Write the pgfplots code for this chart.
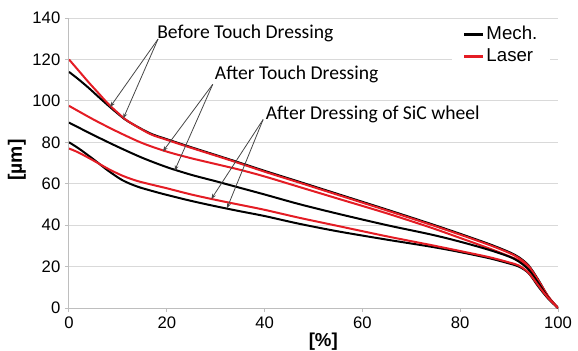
\documentclass[border=0pt]{standalone}
\usepackage{fontspec}
\setmainfont{Liberation Sans}
\newfontfamily\calibri{Carlito}
\usepackage{pgfplots}
\pgfplotsset{compat=1.18}
\usetikzlibrary{arrows.meta}
\definecolor{myred}{RGB}{228,28,36}
\definecolor{gridgray}{RGB}{217,217,217}
\definecolor{axgray}{RGB}{190,190,190}
\definecolor{arrgray}{RGB}{70,70,70}

\begin{document}
\begin{tikzpicture}
\useasboundingbox (-51.75pt,-31.5pt) rectangle (381.75pt,231pt);
\begin{axis}[
  at={(0pt,0pt)}, anchor=south west,
  scale only axis, width=366.75pt, height=217.5pt,
  xmin=0, xmax=100, ymin=0, ymax=140,
  axis lines*=left,
  axis line style={axgray, line width=0.75pt},
  xtick={0,20,...,100}, ytick={0,20,...,140},
  ymajorgrids, grid style={gridgray, line width=0.75pt},
  tick style={axgray, line width=0.75pt}, tick align=outside, major tick length=3pt,
  tick label style={font=\fontsize{12.5}{14}\selectfont, text=black},
  /pgf/number format/assume math mode=true,
  xlabel={\textbf{[\%]}}, xlabel style={font=\fontsize{14}{16}\selectfont, at={(rel axis cs:0.52,0)}, anchor=north, yshift=-15pt},
  ylabel={\textbf{[µm]}}, ylabel style={font=\fontsize{14.5}{16}\selectfont, at={(rel axis cs:0,0.51)}, anchor=center, rotate=0, yshift=0pt, xshift=0pt},
  ylabel shift=0pt,
  legend style={at={(rel axis cs:0.783,0.997)}, anchor=north west, draw=none, fill=white,
    font=\fontsize{14}{16}\selectfont, inner xsep=8pt, inner ysep=3pt, row sep=0pt,
    nodes={text height=10.5pt, text depth=3pt, inner sep=1.5pt}},
  legend cell align=left,
  legend image code/.code={\draw[#1, line width=2.25pt] (0pt,0pt) -- (14pt,0pt);},
  ylabel style={yshift=39pt},
]
% Before touch dressing - Mech
\addplot[black, line width=1.5pt, smooth, forget plot] coordinates {
(0,114) (2,110.3) (4,106.3) (6,102) (8,97.8) (10,93.8) (12,90.2) (16.5,84.4) (20,81.5) (25,77.6) (33,71.6) (40,66.2) (47,61) (55,55) (65,47.5) (74,40.6) (80,35.8) (86,30.8) (90,27) (92,24.5) (94,20.5) (96,13.5) (98,5.5) (100,0)};
% Before touch dressing - Laser
\addplot[myred, line width=1.5pt, smooth, forget plot] coordinates {
(0,120) (2,114.5) (4,109) (6,103.8) (8,98.6) (10,94.2) (12,90.3) (16.5,84.1) (20,81.2) (25,77.3) (33,71.3) (40,65.8) (47,60.6) (55,54.6) (65,47.1) (74,40.2) (80,35.4) (86,30.4) (90,26.6) (92,24.1) (94,20.2) (96,13.2) (98,5.5) (100,0)};
% After touch dressing - Laser
\addplot[myred, line width=1.5pt, smooth, forget plot] coordinates {
(0,97.6) (5,91) (10,85) (15,79.6) (20,75.5) (25,72.3) (30,69.5) (35,66.7) (40,63.5) (47,58.5) (55,52.8) (65,45.7) (74,38.8) (80,33.8) (86,28.7) (90,25) (92,23) (94,19.5) (96,13) (98,5.5) (100,0)};
% After touch dressing - Mech
\addplot[black, line width=1.5pt, smooth, forget plot] coordinates {
(0,89.5) (5,83.5) (10,77.8) (15,72.5) (20,68) (25,64.3) (30,61.2) (35,58) (40,54.8) (47,50.2) (55,45.5) (65,40) (74,35.5) (80,32) (86,28) (90,24.8) (92,22.4) (94,18.5) (96,12) (98,5) (100,0)};
% After SiC - Mech
\addplot[black, line width=1.5pt, smooth, forget plot] coordinates {
(0,80) (2,77) (5,71.8) (8,66.3) (11,61.6) (14,58.6) (17,56.5) (20,54.6) (25,51.7) (30,49.1) (35,46.7) (40,44.4) (47,40.7) (55,37) (65,33) (74,29.6) (80,27) (86,24) (90,21.5) (92,20) (94,16.8) (96,10.3) (98,4.5) (100,0)};
% After SiC - Laser
\addplot[myred, line width=1.5pt, smooth, forget plot] coordinates {
(0,77) (2,75) (5,71.2) (8,67.2) (11,63.8) (14,61.3) (17,59.5) (20,57.8) (25,54.8) (30,52.2) (35,49.8) (40,47.4) (47,43.6) (55,39.6) (65,34.6) (74,30.4) (80,27.5) (86,24.5) (90,22) (92,20.5) (94,17) (96,10.8) (98,4.8) (100,0)};
\addlegendimage{black}
\addlegendentry{Mech.}
\addlegendimage{myred}
\addlegendentry{Laser}
% annotations
\node[anchor=west, inner sep=0pt, font=\calibri\fontsize{14.7}{16}\selectfont] at (axis cs:18,132.6) {Before Touch Dressing};
\node[anchor=west, inner sep=0pt, font=\calibri\fontsize{14.7}{16}\selectfont] at (axis cs:29.8,112.8) {After Touch Dressing};
\node[anchor=west, inner sep=0pt, font=\calibri\fontsize{14.7}{16}\selectfont] at (axis cs:40.2,93.3) {After Dressing of SiC wheel};
\draw[arrgray, line width=0.6pt, -{Stealth[length=4pt,width=3pt]}] (axis cs:18.2,129.8) -- (axis cs:8.4,97);
\draw[arrgray, line width=0.6pt, -{Stealth[length=4pt,width=3pt]}] (axis cs:18.2,129.8) -- (axis cs:11.1,91.5);
\draw[arrgray, line width=0.6pt, -{Stealth[length=4pt,width=3pt]}] (axis cs:29.4,108) -- (axis cs:19.2,75.6);
\draw[arrgray, line width=0.6pt, -{Stealth[length=4pt,width=3pt]}] (axis cs:29.4,108) -- (axis cs:21.6,66.3);
\draw[arrgray, line width=0.6pt, -{Stealth[length=4pt,width=3pt]}] (axis cs:39.7,91) -- (axis cs:29.1,52.6);
\draw[arrgray, line width=0.6pt, -{Stealth[length=4pt,width=3pt]}] (axis cs:39.7,91) -- (axis cs:32.3,48.1);
\end{axis}
\end{tikzpicture}
\end{document}
